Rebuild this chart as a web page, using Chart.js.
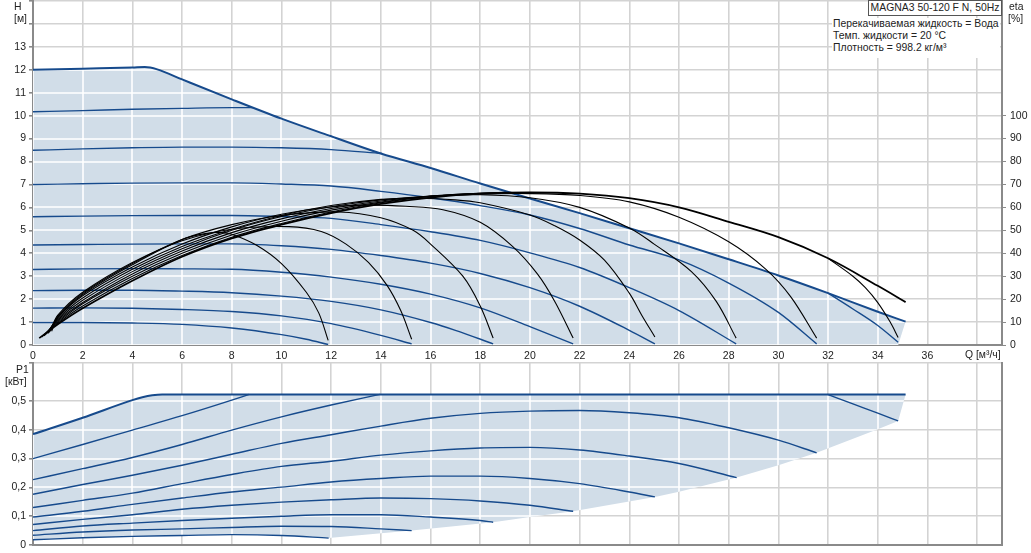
<!DOCTYPE html>
<html>
<head>
<meta charset="utf-8">
<script src="https://cdn.jsdelivr.net/npm/chart.js"></script>
<style>
  body { margin: 0; background: #fff; width: 1031px; height: 553px; overflow: hidden; position: relative;
         font-family: "Liberation Sans", Arial, sans-serif; font-size: 10.4px; color: #222; }
  canvas { position: absolute; left: 0; }
  .lbl { position: absolute; white-space: nowrap; line-height: 12px; z-index: 2; }
  #model { left: 868px; top: 0; width: 132px; height: 14px; border: 1px solid #555; background: #fff;
           text-align: center; line-height: 14px; }
  #info { left: 832px; top: 18px; width: 167px; height: 40px; background: #fff; padding-left: 1px; }
</style>
</head>
<body>
<canvas id="chartH" width="1031" height="362" style="top:0"></canvas>
<canvas id="chartP" width="1031" height="193" style="top:360px"></canvas>

<div class="lbl" style="left:14px;top:1px">H</div>
<div class="lbl" style="left:14px;top:13px">[м]</div>
<div class="lbl" style="left:1009px;top:1px">eta</div>
<div class="lbl" style="left:1008px;top:13px">[%]</div>
<div class="lbl" style="left:965px;top:349px">Q [м³/ч]</div>
<div class="lbl" style="left:16px;top:364px">P1</div>
<div class="lbl" style="left:5px;top:376px">[кВт]</div>
<div class="lbl" id="model">MAGNA3 50-120 F N, 50Hz</div>
<div class="lbl" id="info">Перекачиваемая жидкость = Вода<br>Темп. жидкости = 20 °C<br>Плотность = 998.2 кг/м³</div>

<script>
// Q [м³/ч] -> H [м], одна кривая на ступень скорости
const hEnvelope = [[0,12.0],[2,12.05],[4,12.1],[4.5,12.12],[5,12.02],[6,11.58],[8,10.71],[10,9.87],[12,9.1],[14,8.35],[16,7.72],[18,7.04],[20,6.39],[22,5.75],[24,5.09],[26,4.43],[28,3.74],[30,3.03],[32,2.26],[34,1.45],[35.12,1.02]];
const h2 = [[0,10.17],[2,10.22],[4,10.28],[6,10.32],[8,10.35],[8.85,10.35]];
const h3 = [[0,8.49],[2,8.55],[4,8.6],[6,8.63],[8,8.63],[10,8.6],[12,8.52],[14.05,8.35]];
const h4 = [[0,7.0],[2,7.03],[4,7.06],[6,7.07],[8,7.07],[10,7.02],[12,6.93],[14,6.7],[16,6.42],[18,6.08],[20,5.67],[22,5.08],[24,4.36],[26,3.71],[28,2.7],[30,1.42],[31.54,0.05]];
const h5 = [[0,5.59],[2,5.62],[4,5.64],[6,5.65],[8,5.65],[10,5.6],[12,5.52],[14,5.25],[16,4.94],[18,4.56],[20,4.02],[22,3.38],[24,2.5],[26,1.5],[28.3,0.05]];
const h6 = [[0,4.36],[2,4.38],[4,4.4],[6,4.41],[8,4.41],[10,4.33],[12,4.17],[14,3.9],[16,3.57],[18,3.12],[20,2.5],[22,1.69],[24,0.64],[25.03,0.05]];
const h7 = [[0,3.29],[2,3.32],[4,3.33],[6,3.32],[8,3.3],[10,3.17],[12,2.96],[14,2.65],[16,2.22],[18,1.62],[20,0.8],[21.74,0.05]];
const h8 = [[0,2.37],[2,2.39],[4,2.39],[6,2.35],[8,2.28],[10,2.13],[12,1.9],[14,1.53],[16,0.98],[17,0.64],[18.52,0.05]];
const h9 = [[0,1.61],[2,1.62],[4,1.6],[6,1.55],[8,1.46],[10,1.27],[12,0.93],[14,0.42],[15.24,0.05]];
const h10 = [[0,0.98],[2,0.98],[4,0.96],[6,0.9],[8,0.74],[10,0.45],[11,0.25],[11.88,0.02]];
const hBranch = [[32,2.26],[33,1.57],[34,0.85],[34.82,0.12]];
const hAreaCorner = [[34.82,0],[0,0]];

// КПД eta [%]
const eta1 = [[0.25,3],[1,9],[2,16],[4,28],[6,38.5],[8,46.5],[10,52.5],[12,57.5],[14,61.5],[16,64.3],[18,66],[20,66.5],[22,66],[24,64],[26,60],[28,53.7],[30,47],[32,37.8],[34,25.8],[35.12,18.7]];
const eta2 = [[0.35,3.5],[1,9.5],[2,17],[4,29],[6,39],[8,47],[10,53],[12,58],[14,62],[16,64.8],[18,66.2],[20,66.5]];
const eta3 = [[0.4,4],[1,10],[2,18],[4,30],[6,40],[8,48],[10,54],[12,58.8],[14,62.3],[16,65],[18,66.2],[20,66.5]];
const eta4 = [[0.45,4],[1,10.5],[2,18.5],[4,31],[6,41],[8,49],[10,55],[12,59.5],[14,62.8],[16,64.8],[18,65.8],[20,66],[22,65.2],[24,62.4],[26,55.7],[28,45],[29.5,33],[30.5,21],[31.54,3]];
const eta5 = [[0.5,4.5],[1,11],[2,19.5],[4,32],[6,42],[8,50],[10,56],[12,60.3],[14,63.3],[16,65],[18,65.5],[20,64.2],[22,60],[24,51],[25,44],[26.5,32],[27.5,19],[28.3,3]];
const eta6 = [[0.55,5],[1,11.5],[2,20.5],[4,33],[6,43],[8,50.5],[10,56.5],[12,60.8],[14,63.5],[15.5,64],[17,63.3],[18,62],[20,56.7],[21,52],[22,45.8],[23,37],[24,22.6],[24.5,13],[25.03,3.5]];
const eta7 = [[0.6,5],[1,12],[2,21.5],[4,34],[6,44],[8,51.5],[10,57],[12,60.2],[13.5,61],[15,60.5],[16.5,59],[18,53.5],[19.3,43],[20.3,31],[21,19],[21.74,3]];
const eta8 = [[0.65,5.5],[1,12.5],[2,22.5],[4,35.5],[6,46],[8,52.5],[10,56.5],[12.3,58],[14,55.5],[15.3,50],[16,44],[17.3,30],[18,17],[18.52,3]];
const eta9 = [[0.7,6],[1,13],[2,23],[4,36],[6,45.5],[8,50.5],[10.3,51.6],[11.6,49.5],[12.6,44],[13.5,36],[14.25,26],[14.8,15],[15.24,2.5]];
const eta10 = [[0.75,6],[1,12],[2,22],[4,35],[6,46],[7,48.7],[7.6,49],[8,48.3],[9,43.5],[10,35.5],[11,23],[11.5,14],[11.88,2]];
const etaBranch = [[32,37.8],[33,30],[33.5,25],[34,18.5],[34.5,10],[34.82,3.3]];

// P1 [кВт]
const pEnvelope = [[0,0.385],[2,0.442],[4,0.503],[4.4,0.513],[4.8,0.52],[5.2,0.523],[35.12,0.523]];
const p2 = [[0,0.3],[2,0.349],[4,0.399],[6,0.449],[8,0.503],[8.7,0.523]];
const p3 = [[0,0.227],[2,0.265],[4,0.304],[6,0.349],[8,0.399],[10,0.445],[12,0.486],[13.96,0.523]];
const p4 = [[0,0.176],[2,0.21],[4,0.242],[6,0.277],[8,0.315],[10,0.353],[12,0.383],[14,0.413],[16,0.44],[18,0.457],[20,0.465],[22,0.467],[24,0.459],[26,0.442],[28,0.407],[30,0.364],[31.54,0.32]];
const p5 = [[0,0.13],[2,0.155],[4,0.18],[6,0.213],[8,0.245],[10,0.273],[12,0.291],[14,0.312],[16,0.327],[18,0.337],[20,0.339],[22,0.33],[24,0.309],[26,0.283],[28.32,0.234]];
const p6 = [[0,0.097],[2,0.117],[4,0.141],[6,0.163],[8,0.184],[10,0.201],[12,0.219],[14,0.231],[16,0.239],[18,0.239],[20,0.231],[22,0.213],[24,0.184],[25.03,0.167]];
const p7 = [[0,0.071],[2,0.089],[4,0.105],[6,0.124],[8,0.138],[10,0.149],[12,0.157],[14,0.163],[16,0.161],[18,0.153],[20,0.138],[21.74,0.117]];
const p8 = [[0,0.05],[2,0.066],[4,0.076],[6,0.085],[8,0.093],[10,0.1],[12,0.105],[14,0.105],[16,0.097],[18,0.085],[18.52,0.079]];
const p9 = [[0,0.034],[2,0.045],[4,0.052],[6,0.056],[8,0.061],[10,0.065],[12,0.064],[14,0.056],[15.24,0.05]];
const p10 = [[0,0.018],[2,0.025],[4,0.03],[6,0.033],[8,0.036],[10,0.033],[11.9,0.024]];
const pBranch = [[31.98,0.523],[33,0.49],[34,0.458],[34.82,0.431]];
// нижняя граница заштрихованной области (концы кривых)
const pLowerEdge = [[34.82,0.431],[34,0.402],[31.54,0.32],[30,0.277],[28.32,0.234],[26,0.185],[25.03,0.167],[21.74,0.117],[20,0.097],[18.52,0.079],[15.24,0.05],[11.9,0.024]];

const BLUE = '#164a8c';
const AREA = '#d1dde8';
const GRID = '#d3d3d3';
const AXIS = '#8a8a8a';

Chart.defaults.font.family = '"Liberation Sans", Arial, sans-serif';
Chart.defaults.font.size = 10.5;
Chart.defaults.color = '#222';

const xy = arr => arr.map(([x, y]) => ({ x, y }));

// белые линии сетки поверх заливки
const whiteGrid = {
    id: 'whiteGrid',
    afterDatasetDraw(chart, args) {
        if (!chart.data.datasets[args.index].isArea) return;
        const ctx = chart.ctx;
        const { top, bottom, left, right } = chart.chartArea;
        const pts = args.meta.data;
        ctx.save();
        ctx.beginPath();
        pts.forEach((p, i) => i ? ctx.lineTo(p.x, p.y) : ctx.moveTo(p.x, p.y));
        ctx.closePath();
        ctx.clip();
        ctx.strokeStyle = '#fff';
        ctx.lineWidth = 1.6;
        ctx.beginPath();
        chart.scales.x.ticks.forEach(t => {
            const x = Math.round(chart.scales.x.getPixelForValue(t.value));
            ctx.moveTo(x, top); ctx.lineTo(x, bottom);
        });
        chart.scales.y.ticks.forEach(t => {
            const y = Math.round(chart.scales.y.getPixelForValue(t.value));
            ctx.moveTo(left, y); ctx.lineTo(right, y);
        });
        ctx.stroke();
        ctx.restore();
    }
};

const areaSet = pts => ({ data: xy(pts), isArea: true, fill: 'shape', backgroundColor: AREA,
    borderWidth: 0, tension: 0, pointRadius: 0, order: 3 });
const blueSet = (pts, w) => ({ data: xy(pts), borderColor: BLUE, borderWidth: w || 1.4,
    cubicInterpolationMode: 'monotone', pointRadius: 0, fill: false, order: 2 });
const blackSet = (pts, w) => ({ data: xy(pts), yAxisID: 'y2', borderColor: '#000', borderWidth: w || 1.1,
    tension: 0.35, pointRadius: 0, fill: false, order: 1 });

const xScale = (h, labels) => ({
    type: 'linear', min: 0, max: 39,
    afterFit: s => { s.height = h; s.paddingLeft = 0; s.paddingRight = 0; },
    ticks: { display: labels, stepSize: 2, padding: 5, maxRotation: 0, autoSkip: false,
             callback: v => v <= 36 ? v : '' },
    grid: { color: GRID, lineWidth: 1.6, drawTicks: false },
    border: { color: AXIS, width: 2 }
});
const fixV = w => s => { s.width = w; s.paddingTop = 0; s.paddingBottom = 0; };

const hAreaPoly = [[0,0], ...hEnvelope, ...hAreaCorner];

new Chart(document.getElementById('chartH'), {
    type: 'line',
    data: {
        datasets: [
            areaSet(hAreaPoly),
            blueSet(hEnvelope, 2),
            ...[h2, h3, h4, h5, h6, h7, h8, h9, h10, hBranch].map(c => blueSet(c)),
            blackSet(eta1, 1.8),
            ...[eta2, eta3, eta4, eta5, eta6, eta7, eta8, eta9, eta10, etaBranch].map(c => blackSet(c)),
        ],
    },
    options: {
        responsive: false,
        animation: false,
        layout: { padding: { top: 1 }, autoPadding: false },
        plugins: { legend: { display: false }, tooltip: { enabled: false } },
        scales: {
            x: xScale(17, true),
            y: {
                min: 0, max: 15,
                afterFit: fixV(33),
                ticks: { stepSize: 1, padding: 3, callback: v => v <= 13 ? v : '' },
                grid: { color: GRID, lineWidth: 1.6, tickLength: 4, tickColor: AXIS },
                border: { color: AXIS, width: 2 }
            },
            y2: {
                position: 'right', min: 0, max: 150,
                afterFit: fixV(29),
                ticks: { stepSize: 10, padding: 4, callback: v => v <= 100 ? v : null },
                grid: { drawOnChartArea: false, tickLength: 4, tickColor: AXIS },
                border: { color: AXIS, width: 2 }
            }
        }
    },
    plugins: [whiteGrid]
});

const pAreaPoly = [...pEnvelope, ...pLowerEdge, ...p10.slice().reverse()];

new Chart(document.getElementById('chartP'), {
    type: 'line',
    data: {
        datasets: [
            areaSet(pAreaPoly),
            blueSet(pEnvelope, 2),
            ...[p2, p3, p4, p5, p6, p7, p8, p9, p10, pBranch].map(c => blueSet(c)),
        ],
    },
    options: {
        responsive: false,
        animation: false,
        layout: { padding: { top: 3 }, autoPadding: false },
        plugins: { legend: { display: false }, tooltip: { enabled: false } },
        scales: {
            x: xScale(8, false),
            y: {
                min: 0, max: 0.632,
                afterFit: fixV(33),
                ticks: { stepSize: 0.1, padding: 3,
                         callback: v => v > 0.55 ? '' : (v === 0 ? '0' : v.toFixed(1).replace('.', ',')) },
                grid: { color: GRID, lineWidth: 1.6, tickLength: 4, tickColor: AXIS },
                border: { color: AXIS, width: 2 }
            },
            y2: {
                position: 'right', min: 0, max: 0.632,
                afterFit: fixV(29),
                ticks: { display: false },
                grid: { drawOnChartArea: false, drawTicks: false },
                border: { color: AXIS, width: 2 }
            }
        }
    },
    plugins: [whiteGrid]
});
</script>
</body>
</html>
